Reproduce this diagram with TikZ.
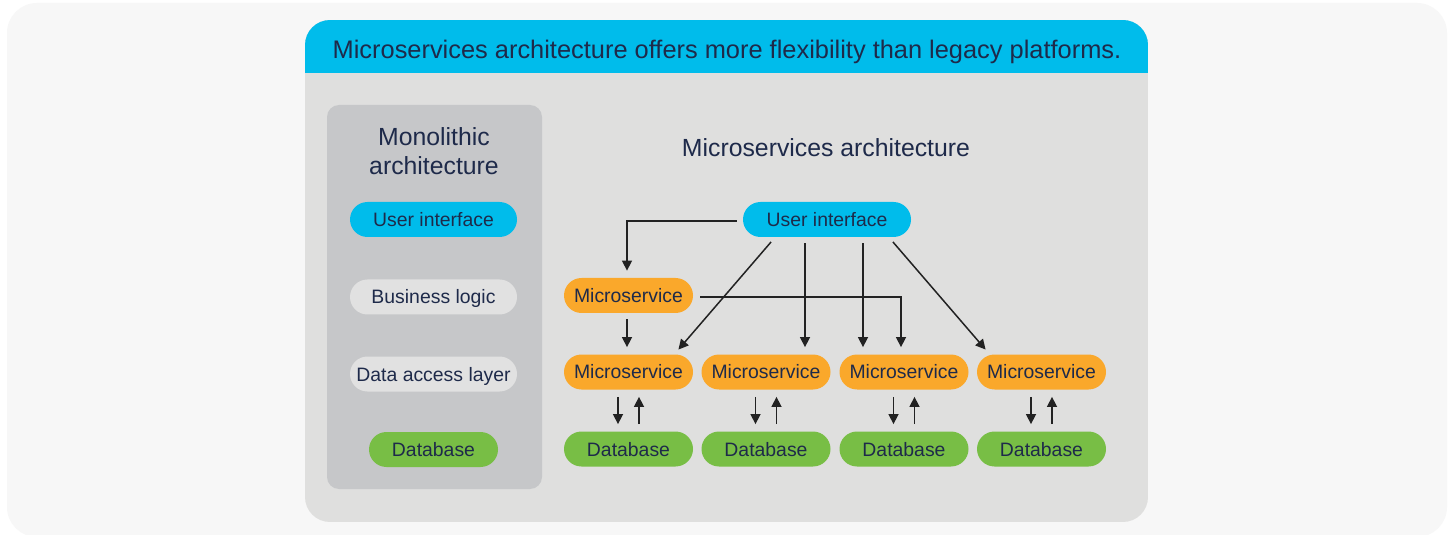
\documentclass[tikz,border=0pt]{standalone}
\usepackage{fontspec}
\setmainfont{Liberation Sans}
\usetikzlibrary{arrows.meta}
\definecolor{outerbg}{HTML}{F7F7F7}
\definecolor{panelbg}{HTML}{DFDFDE}
\definecolor{cyanc}{HTML}{00BCEB}
\definecolor{monobg}{HTML}{C6C7C9}
\definecolor{lightpill}{HTML}{E1E1E1}
\definecolor{orangec}{HTML}{FAA82B}
\definecolor{greenc}{HTML}{78BE45}
\definecolor{navy}{HTML}{1E2A4A}
\definecolor{arrowc}{HTML}{222222}
\tikzset{
  pill/.style={rectangle, rounded corners=8.75pt, minimum height=17.5pt, inner sep=0pt,
    text height=7pt, text depth=0pt,
    text=navy, font=\fontsize{9.7}{11}\selectfont},
  uipill/.style={pill, fill=cyanc, minimum width=84pt},
  graypill/.style={pill, fill=lightpill, minimum width=83.5pt},
  mspill/.style={pill, fill=orangec, minimum width=64.5pt},
  dbpill/.style={pill, fill=greenc, minimum width=64.5pt},
  titletext/.style={text=navy, font=\fontsize{12.4}{14.5}\selectfont, inner sep=0pt, anchor=base},
  arr/.style={draw=arrowc, line width=0.75pt, -{Triangle[length=5pt,width=5pt]}},
}
\begin{document}
\begin{tikzpicture}[x=0.5pt,y=-0.5pt]
\useasboundingbox (0,0) rectangle (1448,535);
\fill[white] (0,0) rectangle (1448,535);
\fill[outerbg, rounded corners=15pt] (7,3) rectangle (1447,537);
% main panel
\begin{scope}
\clip[rounded corners=12.5pt] (305,20) rectangle (1148,522);
\fill[panelbg] (305,20) rectangle (1148,522);
\fill[cyanc] (305,20) rectangle (1148,73);
\end{scope}
\node[text=navy, font=\fontsize{12.7}{14}\selectfont, inner sep=0pt, anchor=base] (header) at (727,59)
  {Microservices architecture offers more flexibility than legacy platforms.};
% monolithic
\fill[monobg, rounded corners=6pt] (327,105) rectangle (542,489);
\node[titletext] (monotitleA) at (434,146) {Monolithic};
\node[titletext] (monotitleB) at (434,175) {architecture};
\node[uipill, minimum width=83.5pt] (mui) at (433.5,219.5) {User interface};
\node[graypill] (mbl) at (433.5,297) {Business logic};
\node[graypill] (mdal) at (433.5,374) {Data access layer};
\node[dbpill] (mdb) at (433.5,449.5) {Database};
% microservices
\node[titletext] (mstitle) at (826,157) {Microservices architecture};
\node[uipill] (ui) at (827,219.5) {User interface};
\node[mspill] (mstop) at (628.5,295.5) {Microservice};
\node[mspill] (ms1) at (628.5,372) {Microservice};
\node[mspill] (ms2) at (766,372) {Microservice};
\node[mspill] (ms3) at (904,372) {Microservice};
\node[mspill] (ms4) at (1041.5,372) {Microservice};
\node[dbpill] (db1) at (628.5,449) {Database};
\node[dbpill] (db2) at (766,449) {Database};
\node[dbpill] (db3) at (904,449) {Database};
\node[dbpill] (db4) at (1041.5,449) {Database};
% connectors
\draw[arr, shorten >=3.5pt] ([xshift=-3pt,yshift=-0.75pt]ui.west) -| ([xshift=-0.75pt]mstop.north);
\draw[arr, shorten >=3.5pt] ([xshift=3.5pt,yshift=-0.75pt]mstop.east) -| ([xshift=-1.5pt]ms3.north);
\draw[arr, shorten <=3pt, shorten >=3.5pt] ([xshift=-0.75pt]mstop.south) -- ([xshift=-0.75pt]ms1.north);
\draw[arr, shorten <=3pt, shorten >=3pt] ([xshift=-26pt]ui.south) -- ([xshift=23pt]ms1.north);
\draw[arr, shorten <=3pt, shorten >=3.5pt] ([xshift=-11pt]ui.south) -- ([xshift=-11pt]ui.south |- ms2.north);
\draw[arr, shorten <=3pt, shorten >=3.5pt] ([xshift=18pt]ui.south) -- ([xshift=18pt]ui.south |- ms3.north);
\draw[arr, shorten <=3pt, shorten >=3pt] ([xshift=31pt]ui.south) -- ([xshift=-26pt]ms4.north);
\foreach \i in {1,2,3,4}{
  \draw[arr, shorten <=3.5pt, shorten >=3.5pt] ([xshift=-5.25pt]ms\i.south) -- ([xshift=-5.25pt]db\i.north);
  \draw[arr, shorten <=3.5pt, shorten >=3.5pt] ([xshift=5.25pt]db\i.north) -- ([xshift=5.25pt]ms\i.south);
}
\end{tikzpicture}
\end{document}
